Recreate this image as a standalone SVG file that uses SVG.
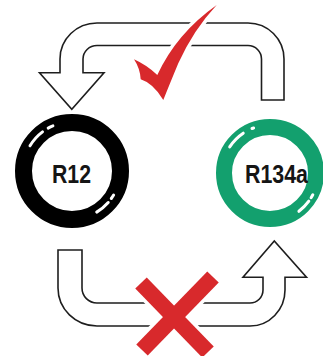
<svg xmlns="http://www.w3.org/2000/svg" width="323" height="356" viewBox="0 0 323 356">
<style>
.arrow{fill:#fff;stroke:#1e1e1e;stroke-width:1.6;stroke-linejoin:miter}
.ring{fill:none}
.hl{fill:none;stroke:#fff;stroke-width:3;stroke-linecap:round}
.lbl{font-family:"Liberation Sans",Arial,sans-serif;font-weight:bold;fill:#151515}
.mark{fill:#d8292c}
.halo{fill:#fff;stroke:#fff;stroke-width:7;stroke-linejoin:round}
</style>
<rect width="323" height="356" fill="#fff"/>
<g id="connectors">
  <path id="top-arrow" class="arrow" d="M261.5 100 L284 100 L284 59 A36 36 0 0 0 248 23 L97 23 A37 36 0 0 0 60 59 L60 72.7 L39.5 72.7 L71.8 109.3 L104 72.7 L83 72.7 L83 59 A14 13.5 0 0 1 97 45.5 L248 45.5 A13.5 13.5 0 0 1 261.5 59 Z"/>
  <path id="bottom-arrow" class="arrow" d="M58 250 L82 250 L82 288 A15 15 0 0 0 97 303 L250 303 A13 13 0 0 0 263 290 L263 277.3 L243 277.3 L274.3 241 L306.5 277.3 L285 277.3 L285 290 A35 36 0 0 1 250 326 L97 326 A39 38 0 0 1 58 288 Z"/>
</g>
<g id="check">
  <path class="halo" d="M134,59.3 Q146.7,65 157.3,75 Q176.7,33.3 216.7,5 Q193.3,30 178.3,63.3 Q170,83.3 163.3,100 Q153.3,83.3 140.7,79.3 Q140,68.3 134,59.3 Z"/>
  <path class="mark" d="M134,59.3 Q146.7,65 157.3,75 Q176.7,33.3 216.7,5 Q193.3,30 178.3,63.3 Q170,83.3 163.3,100 Q153.3,83.3 140.7,79.3 Q140,68.3 134,59.3 Z"/>
</g>
<g id="cross">
  <g stroke="#fff" stroke-width="23">
    <line x1="141" y1="283" x2="208" y2="352"/>
    <line x1="213" y1="277" x2="142" y2="350"/>
  </g>
  <g stroke="#d8292c" stroke-width="16">
    <line x1="141" y1="283" x2="208" y2="352"/>
    <line x1="213" y1="277" x2="142" y2="350"/>
  </g>
</g>
<g id="R12">
  <circle class="ring" cx="72" cy="171" r="48.5" stroke="#000" stroke-width="17"/>
  <path class="hl" d="M30 145.8 A49 49 0 0 1 42.5 131.9"/>
  <path class="hl" d="M48.2 128.1 A49 49 0 0 1 52.9 125.9"/>
  <path class="hl" d="M108.2 202.5 A48 48 0 0 1 96.7 212.1"/>
  <path class="hl" d="M113.6 195 A48 48 0 0 1 111.3 198.5"/>
  <text class="lbl" x="52" y="183" font-size="25" textLength="39" lengthAdjust="spacingAndGlyphs">R12</text>
</g>
<g id="R134a">
  <circle class="ring" cx="270" cy="173" r="46" stroke="#13a06e" stroke-width="16"/>
  <path class="hl" d="M229.7 146.9 A48 48 0 0 1 243.2 133.2"/>
  <path class="hl" d="M252 128.5 A48 48 0 0 1 253.6 128"/>
  <path class="hl" d="M308.8 201.2 A48 48 0 0 1 298.9 211.3"/>
  <path class="hl" d="M312.8 194.8 A48 48 0 0 1 311.1 197.7"/>
  <text class="lbl" x="245" y="183" font-size="25" textLength="63" lengthAdjust="spacingAndGlyphs">R134a</text>
</g>
</svg>
